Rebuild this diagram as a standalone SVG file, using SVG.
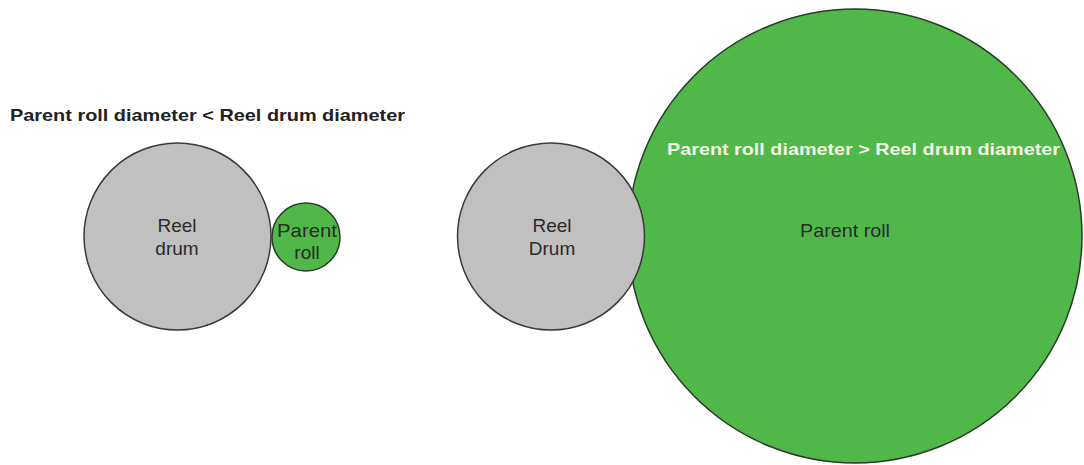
<svg xmlns="http://www.w3.org/2000/svg" width="1084" height="465" viewBox="0 0 1084 465">
<style>
.drum{fill:#c0c0c0;stroke:#3a3a3a;stroke-width:1.5}
.roll{fill:#50b848;stroke:#2a3a2a;stroke-width:1.5}
.lbl{font-family:"Liberation Sans",Arial,sans-serif;font-size:19px;fill:#2a2a2a;text-anchor:middle}
.ttl{font-family:"Liberation Sans",Arial,sans-serif;font-size:17px;font-weight:bold}
</style>
<rect width="1084" height="465" fill="#ffffff"/>
<text class="ttl" x="10" y="121" fill="#222222" textLength="395" lengthAdjust="spacingAndGlyphs">Parent roll diameter &lt; Reel drum diameter</text>
<g id="left-drum">
<circle class="drum" cx="177.5" cy="236.5" r="93.5"/>
<text class="lbl" x="177" y="232">Reel</text>
<text class="lbl" x="177" y="255">drum</text>
</g>
<g id="left-roll">
<circle class="roll" cx="306" cy="237" r="34"/>
<text class="lbl" x="307" y="237" textLength="60" lengthAdjust="spacingAndGlyphs" fill="#1a2a1a">Parent</text>
<text class="lbl" x="307" y="259" fill="#1a2a1a">roll</text>
</g>
<g id="right-roll">
<circle class="roll" cx="855" cy="236" r="227"/>
<text class="ttl" x="667" y="155" fill="#f4f4e6" textLength="393" lengthAdjust="spacingAndGlyphs">Parent roll diameter &gt; Reel drum diameter</text>
<text class="lbl" x="845" y="237" fill="#102010" textLength="90" lengthAdjust="spacingAndGlyphs">Parent roll</text>
</g>
<g id="right-drum">
<circle class="drum" cx="551" cy="236.5" r="93.5"/>
<text class="lbl" x="552" y="232">Reel</text>
<text class="lbl" x="552" y="255">Drum</text>
</g>
<g id="connectors"></g>
</svg>
